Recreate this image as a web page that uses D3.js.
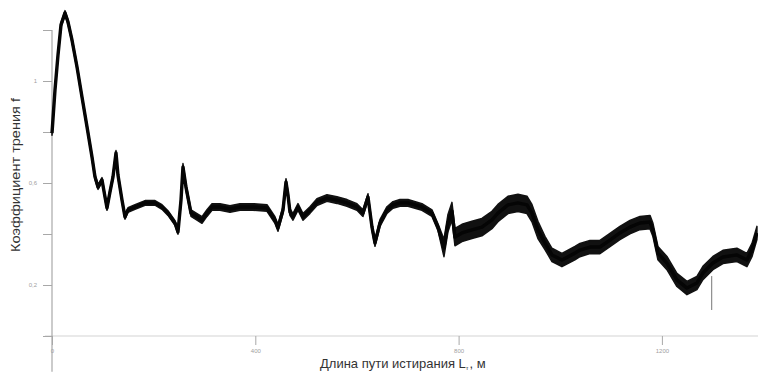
<!DOCTYPE html>
<html>
<head>
<meta charset="utf-8">
<script src="https://cdn.jsdelivr.net/npm/d3@7"></script>
<style>
  body { margin: 0; background: #fff; }
  svg { display: block; }
</style>
</head>
<body>
<div class="chart-container"></div>
<script>
const totalWidth = 758;
const totalHeight = 374;

// путь истирания L, м
const pathL = [0, 5.9, 11.8, 17.7, 25.6, 31.5, 39.3, 49.2, 59.0, 68.9, 78.7, 84.6, 90.5, 98.4, 104.3, 108.2,
    114.1, 120.0, 125.9, 129.8, 137.7, 143.6, 149.5, 163.3, 183.0, 202.6, 216.4, 228.2, 242.0, 247.9, 253.8,
    257.7, 263.6, 273.5, 285.3, 295.1, 304.9, 314.8, 330.5, 350.2, 369.9, 395.4, 423.0, 438.7, 444.6, 454.5,
    460.4, 464.3, 468.2, 474.1, 484.0, 493.8, 507.6, 521.3, 541.0, 560.7, 580.4, 600.0, 611.8, 621.7, 629.6,
    635.5, 645.3, 659.1, 670.9, 684.6, 700.4, 727.9, 747.6, 759.4, 771.2, 779.1, 786.9, 792.8, 806.6, 826.3,
    845.9, 865.6, 877.4, 897.1, 916.8, 934.5, 944.3, 956.1, 969.9, 983.7, 1003.3, 1028.9, 1038.8, 1058.4,
    1078.1, 1097.8, 1117.4, 1137.1, 1156.8, 1176.5, 1182.4, 1192.2, 1209.9, 1229.6, 1249.3, 1268.9, 1280.7,
    1300.4, 1320.1, 1347.6, 1367.3, 1377.2, 1387.0];

// коэффициент трения f
const frictionF = [0.796, 0.965, 1.102, 1.220, 1.267, 1.231, 1.161, 1.055, 0.937, 0.820, 0.702, 0.624, 0.584,
    0.612, 0.545, 0.502, 0.565, 0.624, 0.718, 0.631, 0.533, 0.467, 0.494, 0.506, 0.522, 0.522, 0.506, 0.482,
    0.443, 0.408, 0.533, 0.663, 0.584, 0.482, 0.467, 0.455, 0.482, 0.506, 0.506, 0.498, 0.506, 0.506, 0.502,
    0.455, 0.424, 0.494, 0.604, 0.553, 0.486, 0.467, 0.506, 0.467, 0.494, 0.525, 0.541, 0.533, 0.522, 0.506,
    0.482, 0.545, 0.427, 0.365, 0.443, 0.494, 0.514, 0.522, 0.522, 0.506, 0.482, 0.427, 0.345, 0.443, 0.490,
    0.388, 0.404, 0.416, 0.427, 0.455, 0.482, 0.514, 0.522, 0.514, 0.482, 0.416, 0.365, 0.318, 0.298, 0.325,
    0.337, 0.349, 0.349, 0.376, 0.404, 0.427, 0.443, 0.447, 0.416, 0.325, 0.286, 0.220, 0.188, 0.208, 0.247,
    0.286, 0.310, 0.318, 0.298, 0.337, 0.404];

// ширина полосы шума (полуширина по f) на участках пути
const noiseFromL = [0, 250, 760, 960];
const noiseHalf = [0.009, 0.013, 0.034, 0.026];

// одиночный выброс вниз
const spikeL = 1298;
const spikeF = [0.235, 0.102];

const yTicks = [0, 0.2, 0.4, 0.6, 0.8, 1, 1.2];
const yLabels = {1: "1", 0.6: "0,6", 0.2: "0,2"};
const xTicks = [0, 400, 800, 1200];
const xLabels = ["0", "400", "800", "1200"];

const data = pathL.map((L, i) => {
    const seg = d3.bisectRight(noiseFromL, L) - 1;
    return {L: L, f: frictionF[i], h: noiseHalf[seg]};
});

const svg = d3.select("body")
    .select(".chart-container")
    .append("svg")
    .attr("width", totalWidth)
    .attr("height", totalHeight);

const scaleX = d3.scaleLinear()
    .domain([0, 400])
    .range([52, 255.3]);

const scaleY = d3.scaleLinear()
    .domain([0, 1])
    .range([336, 81]);

// оси
svg.append("line")
    .attr("x1", scaleX(-14)).attr("x2", totalWidth)
    .attr("y1", scaleY(0)).attr("y2", scaleY(0))
    .attr("stroke", "#d4d4d4").attr("stroke-width", 1.2);

svg.append("line")
    .attr("x1", scaleX(0)).attr("x2", scaleX(0))
    .attr("y1", scaleY(1.2)).attr("y2", scaleY(-0.14))
    .attr("stroke", "#a8a8a8").attr("stroke-width", 1.2);

const yAxis = svg.append("g")
    .attr("class", "vertical-axis")
    .attr("transform", `translate(${scaleX(0)},0)`)
    .call(d3.axisLeft(scaleY)
        .tickValues(yTicks)
        .tickSize(9)
        .tickPadding(6)
        .tickFormat(d => yLabels[d] || ""));

const xAxis = svg.append("g")
    .attr("class", "horizontal-axis")
    .attr("transform", `translate(0,${scaleY(0)})`)
    .call(d3.axisBottom(scaleX)
        .tickValues(xTicks)
        .tickSize(9)
        .tickPadding(4)
        .tickFormat((d, i) => xLabels[i]));

[yAxis, xAxis].forEach(ax => {
    ax.select(".domain").remove();
    ax.selectAll(".tick line").attr("stroke", "#a8a8a8").attr("stroke-width", 1);
    ax.selectAll(".tick text")
        .attr("fill", "#a0a0a0")
        .attr("font-family", "Liberation Sans, Arial, sans-serif")
        .attr("font-size", 6);
});

// полоса шума и кривая
const band = d3.area()
    .x(d => scaleX(d.L))
    .y0(d => scaleY(d.f - d.h))
    .y1(d => scaleY(d.f + d.h))
    .curve(d3.curveLinear);

const line = d3.line()
    .x(d => scaleX(d.L))
    .y(d => scaleY(d.f));

svg.append("path")
    .datum(data)
    .attr("d", band)
    .attr("fill", "#111")
    .attr("stroke", "#111")
    .attr("stroke-width", 1.5)
    .attr("stroke-linejoin", "round");

svg.append("path")
    .datum(data)
    .attr("d", line)
    .attr("fill", "none")
    .attr("stroke", "#050505")
    .attr("stroke-width", 3.4)
    .attr("stroke-linejoin", "round");

svg.append("line")
    .attr("x1", scaleX(spikeL)).attr("x2", scaleX(spikeL))
    .attr("y1", scaleY(spikeF[0])).attr("y2", scaleY(spikeF[1]))
    .attr("stroke", "#777").attr("stroke-width", 1);

// подписи осей
svg.append("text")
    .attr("transform", "translate(20,175) rotate(-90)")
    .attr("text-anchor", "middle")
    .attr("font-family", "Liberation Sans Narrow, Arial Narrow, Liberation Sans, sans-serif")
    .attr("font-size", 13)
    .attr("fill", "#333")
    .attr("textLength", 154)
    .attr("lengthAdjust", "spacingAndGlyphs")
    .text("Коэффициент трения f");

const xTitle = svg.append("text")
    .attr("x", 320)
    .attr("y", 368)
    .attr("font-family", "Liberation Sans Narrow, Arial Narrow, Liberation Sans, sans-serif")
    .attr("font-size", 13)
    .attr("fill", "#333");
xTitle.append("tspan").text("Длина пути истирания L");
xTitle.append("tspan").attr("font-size", 6).attr("dy", 2).text("т");
xTitle.append("tspan").attr("dy", -2).attr("dx", 1).text(", м");
</script>
</body>
</html>
